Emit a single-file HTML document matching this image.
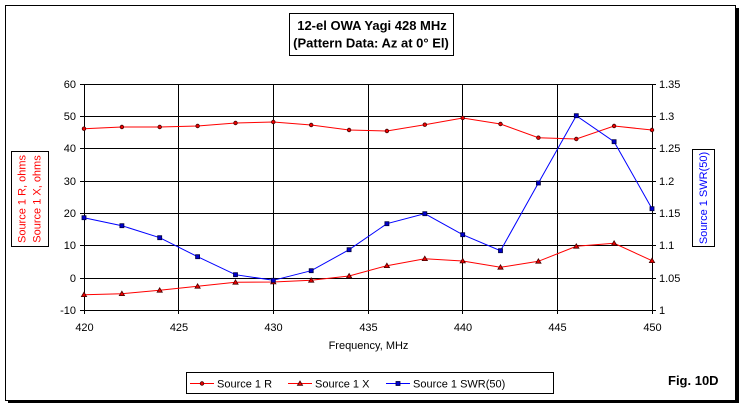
<!DOCTYPE html>
<html><head><meta charset="utf-8"><style>
html,body{margin:0;padding:0;background:#fff;}
svg{display:block;}
text{font-family:"Liberation Sans",Arial,sans-serif;}
</style></head><body>
<svg width="744" height="407" viewBox="0 0 744 407" xmlns="http://www.w3.org/2000/svg">
<rect x="0" y="0" width="744" height="407" fill="#fff"/>
<!-- shadow -->
<rect x="8" y="400" width="731" height="3" fill="#000"/>
<rect x="736" y="8" width="3" height="395" fill="#000"/>
<rect x="5.5" y="5.5" width="730" height="395" fill="#fff" stroke="#000" stroke-width="1"/>

<!-- title -->
<rect x="289.5" y="13.5" width="164" height="42" fill="#fff" stroke="#000"/>
<text x="372" y="30" font-size="13" font-weight="bold" text-anchor="middle">12-el OWA Yagi 428 MHz</text>
<text x="371" y="47.5" font-size="13" font-weight="bold" text-anchor="middle">(Pattern Data: Az at 0° El)</text>

<!-- plot area -->
<g shape-rendering="crispEdges" stroke="#000" stroke-width="1" fill="none">
<rect x="84.5" y="84.5" width="568" height="226" fill="#fff"/>
<line x1="178.5" y1="84" x2="178.5" y2="314"/>
<line x1="273.5" y1="84" x2="273.5" y2="314"/>
<line x1="368.5" y1="84" x2="368.5" y2="314"/>
<line x1="462.5" y1="84" x2="462.5" y2="314"/>
<line x1="557.5" y1="84" x2="557.5" y2="314"/>
<line x1="84.5" y1="310" x2="84.5" y2="314"/>
<line x1="652.5" y1="310" x2="652.5" y2="314"/>
<line x1="80" y1="84.5" x2="656" y2="84.5"/>
<line x1="80" y1="116.5" x2="656" y2="116.5"/>
<line x1="80" y1="148.5" x2="656" y2="148.5"/>
<line x1="80" y1="181.5" x2="656" y2="181.5"/>
<line x1="80" y1="213.5" x2="656" y2="213.5"/>
<line x1="80" y1="245.5" x2="656" y2="245.5"/>
<line x1="80" y1="278.5" x2="656" y2="278.5"/>
<line x1="80" y1="310.5" x2="656" y2="310.5"/>
</g>

<!-- left axis labels -->
<g font-size="11" text-anchor="end" fill="#000">
<text x="76" y="88">60</text>
<text x="76" y="120">50</text>
<text x="76" y="152">40</text>
<text x="76" y="185">30</text>
<text x="76" y="217">20</text>
<text x="76" y="249">10</text>
<text x="76" y="282">0</text>
<text x="76" y="314">-10</text>
</g>
<!-- right axis labels -->
<g font-size="11" text-anchor="start" fill="#000">
<text x="659" y="88">1.35</text>
<text x="659" y="120">1.3</text>
<text x="659" y="152">1.25</text>
<text x="659" y="185">1.2</text>
<text x="659" y="217">1.15</text>
<text x="659" y="249">1.1</text>
<text x="659" y="282">1.05</text>
<text x="659" y="314">1</text>
</g>
<!-- x labels -->
<g font-size="11" text-anchor="middle" fill="#000">
<text x="84.5" y="331">420</text>
<text x="179" y="331">425</text>
<text x="273.5" y="331">430</text>
<text x="368.5" y="331">435</text>
<text x="463" y="331">440</text>
<text x="557.5" y="331">445</text>
<text x="652.5" y="331">450</text>
<text x="368.5" y="349">Frequency, MHz</text>
</g>

<!-- left axis title -->
<rect x="11.5" y="151.5" width="37" height="95" fill="#fff" stroke="#000"/>
<g font-size="11" fill="#f00" text-anchor="middle">
<text transform="translate(25.5,199) rotate(-90)">Source 1 R, ohms</text>
<text transform="translate(40.5,199) rotate(-90)">Source 1 X, ohms</text>
</g>
<!-- right axis title -->
<rect x="692.5" y="149.5" width="22" height="97" fill="#fff" stroke="#000"/>
<text transform="translate(707,198) rotate(-90)" font-size="11" fill="#00f" text-anchor="middle">Source 1 SWR(50)</text>

<!-- series -->
<polyline fill="none" stroke="#f00" stroke-width="1" points="84,128.7 121.9,127 159.7,127 197.6,126 235.5,123 273.3,122 311.2,125 349.1,130 386.9,131 424.8,124.7 462.7,118 500.5,124 538.4,137.7 576.3,139 614.1,126 652,130"/>
<polyline fill="none" stroke="#f00" stroke-width="1" points="84,294.7 121.9,293.7 159.7,290.3 197.6,286.3 235.5,282.3 273.3,282 311.2,280.3 349.1,276 386.9,265.7 424.8,258.7 462.7,261 500.5,267.3 538.4,261.3 576.3,246.3 614.1,243.3 652,260.7"/>
<polyline fill="none" stroke="#00f" stroke-width="1" points="84,217.7 121.9,225.7 159.7,237.7 197.6,256.7 235.5,274.7 273.3,280.3 311.2,270.7 349.1,249.7 386.9,223.7 424.8,213.7 462.7,234.7 500.5,250.7 538.4,183 576.3,115.7 614.1,141.7 652,208.7"/>

<!-- R markers -->
<g fill="#e00" stroke="#400" stroke-width="0.8">
<circle cx="84" cy="128.7" r="1.8"/><circle cx="121.9" cy="127" r="1.8"/><circle cx="159.7" cy="127" r="1.8"/><circle cx="197.6" cy="126" r="1.8"/><circle cx="235.5" cy="123" r="1.8"/><circle cx="273.3" cy="122" r="1.8"/><circle cx="311.2" cy="125" r="1.8"/><circle cx="349.1" cy="130" r="1.8"/><circle cx="386.9" cy="131" r="1.8"/><circle cx="424.8" cy="124.7" r="1.8"/><circle cx="462.7" cy="118" r="1.8"/><circle cx="500.5" cy="124" r="1.8"/><circle cx="538.4" cy="137.7" r="1.8"/><circle cx="576.3" cy="139" r="1.8"/><circle cx="614.1" cy="126" r="1.8"/><circle cx="652" cy="130" r="1.8"/>
</g>
<!-- X markers -->
<g fill="#e00" stroke="#400" stroke-width="0.8">
<path d="M84,292.2 l2.6,4.4 h-5.2z"/><path d="M121.9,291.2 l2.6,4.4 h-5.2z"/><path d="M159.7,287.8 l2.6,4.4 h-5.2z"/><path d="M197.6,283.8 l2.6,4.4 h-5.2z"/><path d="M235.5,279.8 l2.6,4.4 h-5.2z"/><path d="M273.3,279.5 l2.6,4.4 h-5.2z"/><path d="M311.2,277.8 l2.6,4.4 h-5.2z"/><path d="M349.1,273.5 l2.6,4.4 h-5.2z"/><path d="M386.9,263.2 l2.6,4.4 h-5.2z"/><path d="M424.8,256.2 l2.6,4.4 h-5.2z"/><path d="M462.7,258.5 l2.6,4.4 h-5.2z"/><path d="M500.5,264.8 l2.6,4.4 h-5.2z"/><path d="M538.4,258.8 l2.6,4.4 h-5.2z"/><path d="M576.3,243.8 l2.6,4.4 h-5.2z"/><path d="M614.1,240.8 l2.6,4.4 h-5.2z"/><path d="M652,258.2 l2.6,4.4 h-5.2z"/>
</g>
<!-- SWR markers -->
<g fill="#00c" stroke="#000040" stroke-width="0.8">
<rect x="82" y="215.7" width="4" height="4"/><rect x="119.9" y="223.7" width="4" height="4"/><rect x="157.7" y="235.7" width="4" height="4"/><rect x="195.6" y="254.7" width="4" height="4"/><rect x="233.5" y="272.7" width="4" height="4"/><rect x="271.3" y="278.3" width="4" height="4"/><rect x="309.2" y="268.7" width="4" height="4"/><rect x="347.1" y="247.7" width="4" height="4"/><rect x="384.9" y="221.7" width="4" height="4"/><rect x="422.8" y="211.7" width="4" height="4"/><rect x="460.7" y="232.7" width="4" height="4"/><rect x="498.5" y="248.7" width="4" height="4"/><rect x="536.4" y="181" width="4" height="4"/><rect x="574.3" y="113.7" width="4" height="4"/><rect x="612.1" y="139.7" width="4" height="4"/><rect x="650" y="206.7" width="4" height="4"/>
</g>

<!-- legend -->
<rect x="186.5" y="372.5" width="367" height="21" fill="#fff" stroke="#000"/>
<line x1="190" y1="383.5" x2="214" y2="383.5" stroke="#f00"/>
<circle cx="202" cy="383.5" r="1.8" fill="#e00" stroke="#400" stroke-width="0.8"/>
<text x="217" y="387.5" font-size="11">Source 1 R</text>
<line x1="288" y1="383.5" x2="312" y2="383.5" stroke="#f00"/>
<path d="M300,381 l2.6,4.4 h-5.2z" fill="#e00" stroke="#400" stroke-width="0.8"/>
<text x="315" y="387.5" font-size="11">Source 1 X</text>
<line x1="386" y1="383.5" x2="410" y2="383.5" stroke="#00f"/>
<rect x="396" y="381.5" width="4" height="4" fill="#00c" stroke="#000040" stroke-width="0.8"/>
<text x="413" y="387.5" font-size="11">Source 1 SWR(50)</text>

<text x="668" y="385" font-size="13" font-weight="bold">Fig. 10D</text>
</svg>
</body></html>
